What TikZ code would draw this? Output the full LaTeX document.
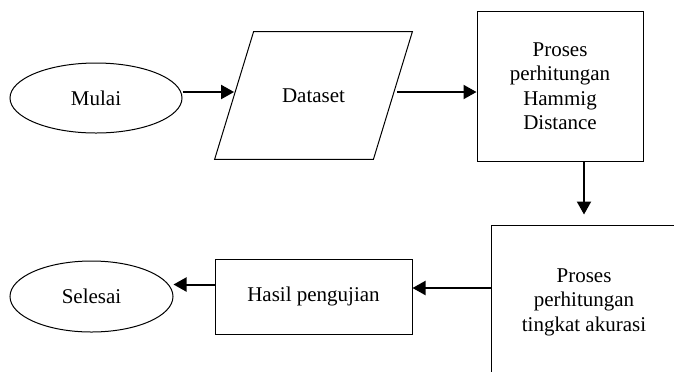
\documentclass[tikz,border=0pt]{standalone}
\usepackage{fontspec}
\setmainfont{Liberation Serif}
\usetikzlibrary{shapes.geometric,arrows.meta}

\begin{document}
\begin{tikzpicture}[x=0.5pt, y=-0.5pt,
    font=\fontsize{10.5}{12.25}\selectfont,
    terminal/.style={draw, ellipse, line width=0.5pt, inner sep=0pt},
    procbox/.style={draw, rectangle, line width=0.5pt, align=center, inner sep=0pt},
    arr/.style={-{Triangle[length=6.5pt,width=7pt]}, line width=1pt}]
    \useasboundingbox (0,0) rectangle (674,371);
    \clip (0,0) rectangle (674,371);

    % Baris atas
    \node[terminal, minimum width=86pt, minimum height=35pt] (mulai) at (96,98) {Mulai};
    \node[minimum width=79pt, minimum height=63.5pt, inner sep=0pt] (dataset) at (313.5,95.5) {Dataset};
    \draw[line width=0.5pt] ([xshift=9.75pt]dataset.north west) -- ([xshift=9.75pt]dataset.north east)
        -- ([xshift=-9.75pt]dataset.south east) -- ([xshift=-9.75pt]dataset.south west) -- cycle;
    \node[procbox, minimum width=83pt, minimum height=75pt] (hamming) at (560,86)
        {Proses\\perhitungan\\Hammig\\Distance};

    % Baris bawah
    \node[procbox, minimum width=93pt, minimum height=77pt] (akurasi) at (584,302)
        {Proses\\perhitungan\\tingkat akurasi};
    \node[procbox, minimum width=98.5pt, minimum height=37.5pt] (hasil) at (313.5,296.5) {Hasil pengujian};
    \node[terminal, minimum width=81.5pt, minimum height=35.5pt] (selesai) at (91.5,296.5) {Selesai};

    % Panah alur
    \draw[arr] ([yshift=3pt]mulai.east) -- ([yshift=3pt]mulai.east -| dataset.west);
    \draw[arr] ([xshift=2pt,yshift=1.75pt]dataset.east) -- ([yshift=1.75pt]dataset.east -| hamming.west);
    \draw[arr, shorten >=5pt] (hamming.south -| akurasi.north) -- (akurasi.north);
    \draw[arr] ([yshift=7pt]akurasi.west) -- ([yshift=7pt]akurasi.west -| hasil.east);
    \draw[arr] ([yshift=6pt]hasil.west) -- ([yshift=6pt]hasil.west -| selesai.east);
\end{tikzpicture}
\end{document}
